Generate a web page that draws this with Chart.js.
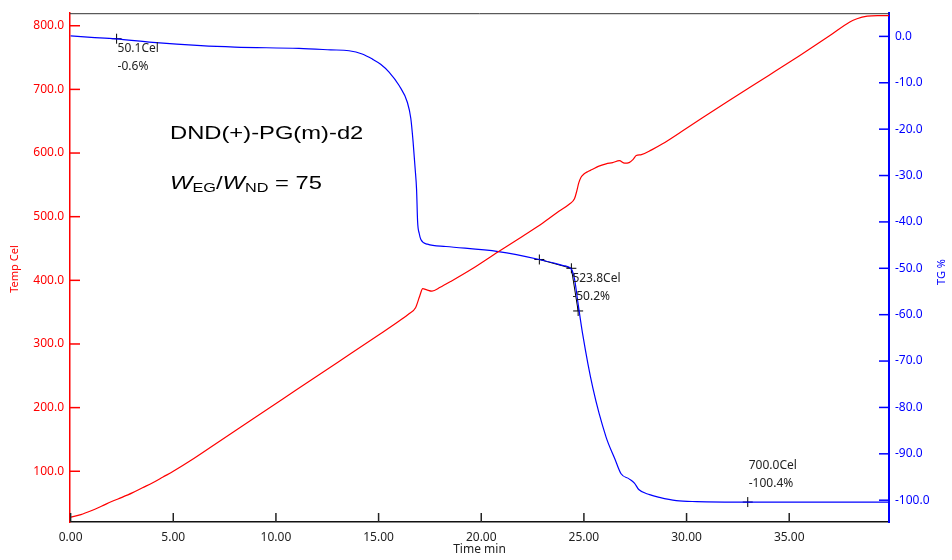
<!DOCTYPE html>
<html>
<head>
<meta charset="utf-8">
<title>TG / Temp</title>
<script src="https://cdn.jsdelivr.net/npm/chart.js@4.4.1/dist/chart.umd.min.js"></script>
<style>
  html, body { margin: 0; padding: 0; background: #fff; }
  #wrap { width: 952px; height: 560px; }
</style>
</head>
<body>
<div id="wrap"><canvas id="tgChart" width="952" height="560"></canvas></div>
<script>
// --- data ---
const timeTemp = [0, 0.5, 1, 1.5, 2, 2.5, 3, 3.5, 4, 4.5, 5, 6, 7.2, 9, 11, 13, 15, 16, 16.5, 16.8, 17.0, 17.15, 17.35,
  17.6, 18, 18.5, 19.5, 20.83, 22, 23, 23.8, 24.3, 24.54, 24.65, 24.75, 24.86, 25.0, 25.2, 25.4, 25.7, 26.08, 26.4,
  26.73, 26.98, 27.2, 27.4, 27.55, 27.8, 28.3, 28.83, 30, 32, 34, 35.5, 37, 37.95, 38.3, 38.8, 39.3, 39.86];
const tempCel = [28, 32, 38, 45, 52.5, 59, 66, 74, 82, 91, 100, 120, 146, 185, 228, 271, 314, 336, 348, 357, 375, 387, 385,
  383, 389, 398, 417, 445, 469, 490, 509, 520, 528, 540, 553, 562, 567, 571, 574, 579, 583, 585,
  588, 584, 585, 590, 596, 597.5, 605, 614.5, 639, 681, 722, 753, 785, 806, 811, 815, 816, 816];

const timeTG = [0, 1, 2.2, 4, 6.35, 8, 11.12, 12.67, 13.56, 14.2, 14.7, 15.1, 15.51, 16.0, 16.4, 16.57,
  16.68, 16.78, 16.85, 16.9, 16.98, 17.06, 17.38, 18.28, 20.83, 22.83, 24.0, 24.39, 24.55, 24.7, 24.94,
  25.43, 26.08, 26.5, 26.81, 27.2, 27.46, 27.67, 28.2, 28.68, 29.5, 30.5, 33, 39.86];
const tgPct = [0.1, -0.2, -0.55, -1.3, -2.0, -2.3, -2.6, -2.9, -3.1, -3.8, -4.9, -6.0, -7.7, -10.6, -14.2, -17.7,
  -22.7, -28.5, -33, -39.9, -42.5, -43.8, -44.8, -45.3, -46.4, -48.1, -49.4, -50.2, -52.5, -57.1, -64.2,
  -75.7, -86.4, -91.0, -94.3, -95.4, -96.3, -97.7, -98.8, -99.4, -100.1, -100.3, -100.4, -100.4];

const tempTicks = [100, 200, 300, 400, 500, 600, 700, 800];
const tgTicks = [0, -10, -20, -30, -40, -50, -60, -70, -80, -90, -100];
const timeTicks = [0, 5, 10, 15, 20, 25, 30, 35];

// analysis marks (+) on the TG curve
const markTime = [2.24, 22.83, 24.39, 24.72, 32.98];
const markTG = [-0.5, -48.1, -50.0, -59.2, -100.4];
const markText = [['50.1Cel', '-0.6%'], null, ['523.8Cel', '-50.2%'], null, ['700.0Cel', '-100.4%']];

const sampleTitle = 'DND(+)-PG(m)-d2';

const RED = '#ff0000';
const BLUE = '#0000ff';
const LABEL_FONT = { family: '"Noto Sans", sans-serif', size: 12 };

const fixTicks = (vals) => (scale) => { scale.ticks = vals.map(v => ({ value: v })); };

// --- extra drawing: inward ticks, top frame, texts ---
const decor = {
  id: 'decor',
  afterDraw(chart) {
    const { ctx, chartArea: a, scales } = chart;
    ctx.save();

    // top frame line
    ctx.strokeStyle = '#333';
    ctx.lineWidth = 1;
    ctx.beginPath();
    ctx.moveTo(a.left, a.top + 0.5);
    ctx.lineTo(a.right, a.top + 0.5);
    ctx.stroke();

    // inward tick marks
    ctx.lineWidth = 1.5;
    ctx.strokeStyle = RED;
    tempTicks.forEach(v => {
      const y = scales.yTemp.getPixelForValue(v);
      ctx.beginPath(); ctx.moveTo(a.left, y); ctx.lineTo(a.left + 10, y); ctx.stroke();
    });
    ctx.strokeStyle = BLUE;
    tgTicks.forEach(v => {
      const y = scales.yTG.getPixelForValue(v);
      ctx.beginPath(); ctx.moveTo(a.right, y); ctx.lineTo(a.right - 10, y); ctx.stroke();
    });
    ctx.strokeStyle = '#222';
    timeTicks.forEach(v => {
      const x = scales.x.getPixelForValue(v);
      ctx.beginPath(); ctx.moveTo(x, a.bottom); ctx.lineTo(x, a.bottom - 9); ctx.stroke();
    });

    // mark labels
    ctx.fillStyle = '#222';
    ctx.font = '12px "Noto Sans", sans-serif';
    ctx.textBaseline = 'middle';
    ctx.textAlign = 'left';
    markText.forEach((lines, i) => {
      if (!lines) return;
      const x = scales.x.getPixelForValue(markTime[i]);
      const y = scales.yTG.getPixelForValue(markTG[i]);
      const dy = i === 4 ? -36 : 10;
      ctx.fillText(lines[0], x + 1, y + dy);
      ctx.fillText(lines[1], x + 1, y + dy + 18);
    });

    // axis titles
    ctx.font = '11px "Noto Sans", sans-serif';
    ctx.textAlign = 'center';
    ctx.fillStyle = RED;
    ctx.save(); ctx.translate(15, 269); ctx.rotate(-Math.PI / 2); ctx.fillText('Temp Cel', 0, 0); ctx.restore();
    ctx.fillStyle = BLUE;
    ctx.save(); ctx.translate(942, 272); ctx.rotate(-Math.PI / 2); ctx.fillText('TG %', 0, 0); ctx.restore();
    ctx.fillStyle = '#222';
    ctx.font = '12px "Noto Sans", sans-serif';
    ctx.fillText('Time min', (a.left + a.right) / 2, 550);

    // sample name, drawn a bit stretched like the original
    ctx.fillStyle = '#000';
    ctx.textAlign = 'left';
    ctx.textBaseline = 'alphabetic';
    ctx.save();
    ctx.translate(170, 139);
    ctx.scale(1.25, 1);
    ctx.font = '19px "Liberation Sans", Arial, sans-serif';
    ctx.fillText(sampleTitle, 0, 0);
    ctx.restore();

    ctx.save();
    ctx.translate(170, 189);
    ctx.scale(1.25, 1);
    let x = 0;
    const part = (txt, font, dy) => {
      ctx.font = font;
      ctx.fillText(txt, x, dy);
      x += ctx.measureText(txt).width;
    };
    const big = '19px "Liberation Sans", Arial, sans-serif';
    const ital = 'italic 19px "Liberation Sans", Arial, sans-serif';
    const sub = '13px "Liberation Sans", Arial, sans-serif';
    part('W', ital, 0); part('EG', sub, 3); part('/', big, 0);
    part('W', ital, 0); part('ND', sub, 3); part(' = 75', big, 0);
    ctx.restore();

    ctx.restore();
  }
};

const ctx = document.getElementById('tgChart');
new Chart(ctx, {
  type: 'line',
  data: {
    datasets: [
      {
        label: 'Temp',
        data: timeTemp.map((t, i) => ({ x: t, y: tempCel[i] })),
        yAxisID: 'yTemp',
        borderColor: RED,
        borderWidth: 1.2,
        pointRadius: 0,
        cubicInterpolationMode: 'monotone'
      },
      {
        label: 'TG',
        data: timeTG.map((t, i) => ({ x: t, y: tgPct[i] })),
        yAxisID: 'yTG',
        borderColor: BLUE,
        borderWidth: 1.2,
        pointRadius: 0,
        cubicInterpolationMode: 'monotone'
      },
      {
        // onset tangents
        label: 'tangent',
        data: [1, 2, 3].map(i => ({ x: markTime[i], y: markTG[i] })),
        yAxisID: 'yTG',
        borderColor: '#000',
        borderWidth: 1,
        tension: 0,
        pointStyle: 'cross',
        pointRadius: 5,
        pointBorderColor: '#000',
        pointBorderWidth: 1
      },
      {
        label: 'marks',
        data: [0, 4].map(i => ({ x: markTime[i], y: markTG[i] })),
        yAxisID: 'yTG',
        showLine: false,
        pointStyle: 'cross',
        pointRadius: 5,
        pointBorderColor: '#000',
        pointBorderWidth: 1
      }
    ]
  },
  options: {
    responsive: false,
    animation: false,
    devicePixelRatio: 1,
    layout: { padding: { top: 11, left: 0, right: 0, bottom: 0 } },
    plugins: { legend: { display: false }, tooltip: { enabled: false } },
    scales: {
      x: {
        type: 'linear',
        min: -0.03,
        max: 39.86,
        afterBuildTicks: fixTicks(timeTicks),
        afterFit: (s) => { s.height = 38; },
        grid: { display: false, drawTicks: false },
        border: { display: true, color: '#111', width: 1.5 },
        ticks: { color: '#222', font: LABEL_FONT, padding: 8, maxRotation: 0,
          callback: (v) => Number(v).toFixed(2) }
      },
      yTemp: {
        type: 'linear',
        position: 'left',
        min: 20.3,
        max: 819.7,
        afterBuildTicks: fixTicks(tempTicks),
        afterFit: (s) => { s.width = 70; },
        grid: { display: false, drawTicks: false },
        border: { display: true, color: RED, width: 1.5 },
        ticks: { color: RED, font: LABEL_FONT, padding: 6,
          callback: (v) => Number(v).toFixed(1) }
      },
      yTG: {
        type: 'linear',
        position: 'right',
        min: -104.7,
        max: 5.0,
        afterBuildTicks: fixTicks(tgTicks),
        afterFit: (s) => { s.width = 63; },
        grid: { display: false, drawTicks: false },
        border: { display: true, color: BLUE, width: 2 },
        ticks: { color: BLUE, font: LABEL_FONT, padding: 6,
          callback: (v) => Number(v).toFixed(1) }
      }
    }
  },
  plugins: [decor]
});
</script>
</body>
</html>
